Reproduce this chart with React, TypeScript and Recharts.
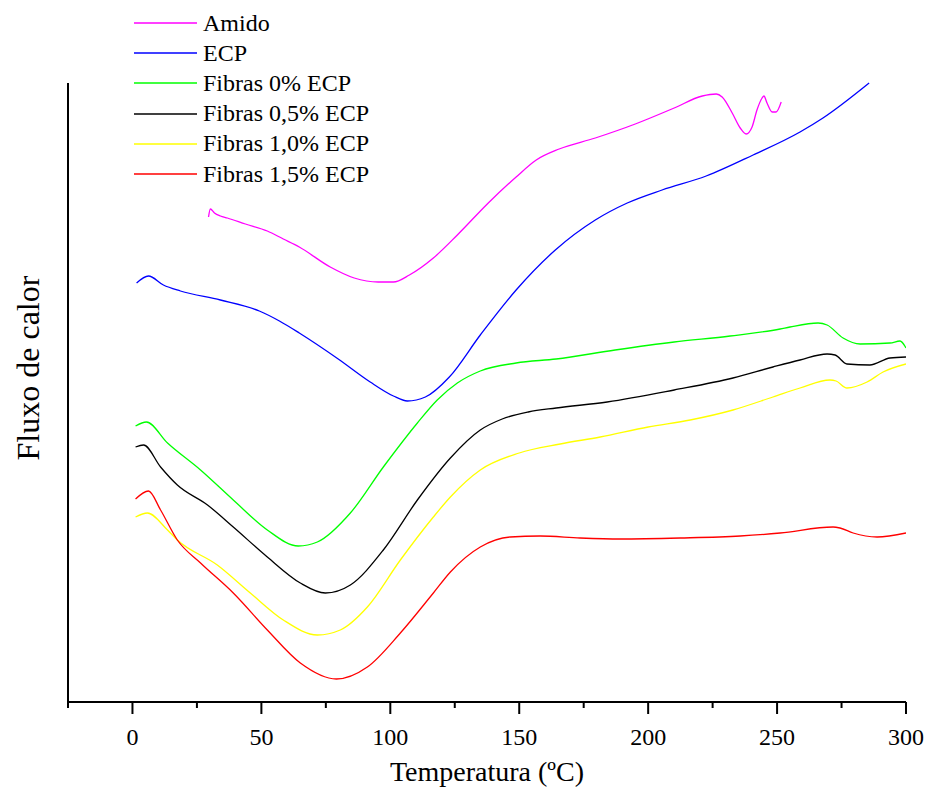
import React from 'react';
import { LineChart, Line, XAxis, YAxis } from 'recharts';

// temperature (ºC) vs heat flow (arbitrary units, no scale shown)
const amido: [number, number][] = [
  [29.5, 485], [30.2, 493], [31.8, 489], [34.1, 486], [36.8, 484], [43.8, 478], [52.3, 471],
  [58.5, 463], [64.7, 455], [76.7, 435], [86.0, 424], [95.3, 420], [101.2, 420], [107.4, 427],
  [116.7, 444], [126.0, 467], [138.0, 499], [148.8, 525], [156.6, 542], [165.5, 553], [179.5, 564],
  [195.0, 578], [210.1, 594], [221.0, 606], [226.4, 608], [228.7, 605], [232.6, 589], [235.7, 574],
  [238.0, 568], [240.3, 575], [242.2, 592], [244.2, 604], [244.9, 606], [246.1, 599], [248.1, 590],
  [249.6, 590], [251.6, 600],
];

const ecp: [number, number][] = [
  [1.6, 419], [6.2, 426], [12.0, 417], [18.6, 411], [34.1, 402], [49.2, 391], [57.0, 381],
  [64.7, 369], [79.8, 343], [92.2, 320], [101.2, 306], [106.6, 301], [113.6, 305], [122.9, 325],
  [134.9, 367], [148.8, 412], [164.0, 452], [179.5, 482], [191.9, 499], [205.4, 512], [222.5, 526],
  [240.7, 547], [258.9, 570], [267.8, 584], [285.7, 619],
];

const fibras0: [number, number][] = [
  [1.2, 276], [5.4, 280], [13.6, 259], [26.4, 232], [39.1, 202], [52.3, 172], [64.3, 156],
  [71.7, 160], [84.5, 189], [97.3, 235], [110.5, 279], [118.2, 302], [126.0, 319], [134.9, 331],
  [148.8, 339], [164.3, 343], [187.2, 352], [210.1, 360], [231.8, 366], [251.2, 373], [255.0, 375],
  [265.9, 379], [269.4, 377], [275.6, 364], [282.2, 358], [293.8, 359], [297.7, 361], [300, 354],
];

const fibras05: [number, number][] = [
  [1.2, 255], [4.3, 257], [10.9, 235], [17.4, 217], [29.1, 197], [39.1, 175], [52.3, 145],
  [65.1, 119], [74.8, 109], [84.5, 117], [97.3, 152], [110.5, 202], [123.3, 244], [134.9, 272],
  [143.4, 283], [153.5, 290], [164.3, 294], [184.1, 300], [210.1, 312], [232.9, 324], [248.4, 335],
  [258.9, 342], [269.4, 348], [272.5, 347], [277.1, 338], [286.0, 337], [293.8, 344], [300, 345],
];

const fibras10: [number, number][] = [
  [1.2, 185], [5.8, 189], [13.6, 172], [17.4, 162], [32.9, 137], [45.7, 109], [58.5, 82],
  [71.7, 67], [80.6, 72], [91.1, 95], [103.9, 142], [116.7, 185], [123.3, 205], [134.9, 232],
  [150.0, 249], [165.9, 258], [181.4, 265], [200.0, 275], [216.3, 282], [232.9, 292], [248.4, 305],
  [258.9, 314], [270.5, 322], [272.9, 321], [277.1, 314], [284.9, 320], [291.1, 330], [300, 338],
];

const fibras15: [number, number][] = [
  [1.2, 203], [6.2, 211], [10.9, 192], [17.4, 162], [26.4, 139], [39.1, 109], [52.3, 72],
  [65.1, 39], [79.1, 23], [91.1, 35], [103.9, 69], [116.7, 109], [123.3, 130], [134.9, 155],
  [146.5, 165], [158.1, 166], [173.6, 164], [189.1, 163], [212.4, 164], [235.7, 166], [251.2, 169],
  [271.7, 175], [274.4, 174], [279.5, 169], [288.8, 165], [300, 169],
];

const seriesNames = ['Amido', 'ECP', 'Fibras 0% ECP', 'Fibras 0,5% ECP', 'Fibras 1,0% ECP', 'Fibras 1,5% ECP'];
const seriesColors = ['#ff00ff', '#0000ff', '#00ff00', '#000000', '#ffff00', '#ff0000'];
const seriesValues = [amido, ecp, fibras0, fibras05, fibras10, fibras15];

const xTicks = [-25, 0, 25, 50, 75, 100, 125, 150, 175, 200, 225, 250, 275, 300];
const xLabelled = [0, 50, 100, 150, 200, 250, 300];

const series = seriesNames.map((name, i) => ({
  name,
  color: seriesColors[i],
  data: seriesValues[i].map(([t, q]) => ({ t, q })),
}));

const FONT = '"Liberation Serif", "Times New Roman", serif';

const XTick = (props: any) => {
  const { x, y, payload } = props;
  const major = xLabelled.includes(payload.value);
  return (
    <g>
      <line x1={x} x2={x} y1={y} y2={y + (major ? 12 : 6)} stroke="#000" strokeWidth={2} />
      {major && (
        <text x={x} y={y + 43} textAnchor="middle" fontSize={24} fontFamily={FONT} fill="#000">
          {payload.value}
        </text>
      )}
    </g>
  );
};

const App = () => {
  return (
    <div style={{ position: 'absolute', left: 0, top: 0, width: 928, height: 789, background: '#fff' }}>
      <LineChart width={928} height={789} margin={{ top: 83, right: 22, bottom: 0, left: 67 }}>
        <XAxis
          dataKey="t"
          type="number"
          domain={[-25, 300]}
          ticks={xTicks}
          allowDataOverflow
          height={87}
          tickSize={0}
          tickMargin={0}
          tickLine={false}
          tick={<XTick />}
          axisLine={{ stroke: '#000', strokeWidth: 2 }}
          label={{
            value: 'Temperatura (ºC)',
            position: 'insideBottom',
            offset: 8,
            style: { fontSize: 28, fontFamily: FONT, fill: '#000' },
          }}
        />
        <YAxis
          type="number"
          domain={[0, 619]}
          width={1}
          tick={false}
          tickLine={false}
          axisLine={{ stroke: '#000', strokeWidth: 2 }}
        />
        {series.map((s) => (
          <Line
            key={s.name}
            data={s.data}
            dataKey="q"
            name={s.name}
            type="monotone"
            stroke={s.color}
            strokeWidth={1.3}
            dot={false}
            activeDot={false}
            isAnimationActive={false}
          />
        ))}
      </LineChart>
      <div
        style={{
          position: 'absolute',
          left: 10,
          top: 368,
          transform: 'translate(-50%, -50%) rotate(-90deg) translate(0, 50%)',
          transformOrigin: 'center',
          fontFamily: FONT,
          fontSize: 32,
          whiteSpace: 'nowrap',
          color: '#000',
        }}
      >
        Fluxo de calor
      </div>
      <div style={{ position: 'absolute', left: 134, top: 8, fontFamily: FONT, fontSize: 24, color: '#000' }}>
        {series.map((s) => (
          <div key={s.name} style={{ display: 'flex', alignItems: 'center', height: 30.2, whiteSpace: 'nowrap' }}>
            <svg width={63} height={4} style={{ marginRight: 6 }}>
              <line x1={0} x2={63} y1={2} y2={2} stroke={s.color} strokeWidth={1.3} />
            </svg>
            <span>{s.name}</span>
          </div>
        ))}
      </div>
    </div>
  );
};

export default App;
